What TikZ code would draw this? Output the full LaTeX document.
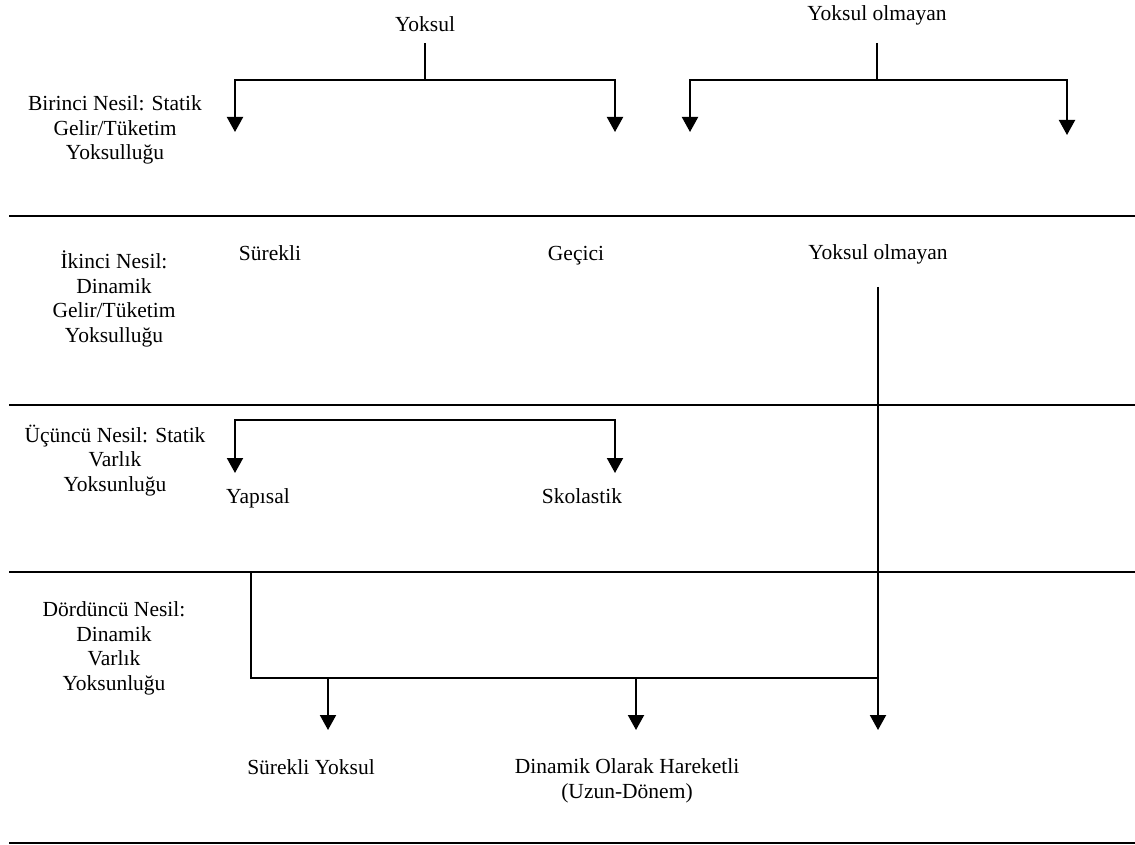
\documentclass[tikz,border=0pt]{standalone}
\usepackage{fontspec}
\setmainfont{Liberation Serif}
\usetikzlibrary{arrows.meta,positioning}

\begin{document}
\begin{tikzpicture}[
            x=1pt, y=-1pt,
            lbl/.style={font=\fontsize{21.5}{24.5}\selectfont, inner sep=0pt, anchor=base, align=center},
            rule/.style={draw, line width=2.4pt},
            line/.style={draw, line width=2pt},
            arrow/.style={line, -{Triangle[width=16pt,length=15pt]}},
            twoarrow/.style={line, {Triangle[width=16pt,length=15pt]}-{Triangle[width=16pt,length=15pt]}}
        ]
        \useasboundingbox (0,0) rectangle (1135,845);

        % Generation labels (base = last line)
        \node [lbl] (gen1) at (115,160) {Birinci Nesil: Statik\\Gelir/Tüketim\\Yoksulluğu};
        \node [lbl] (gen2) at (114,342) {İkinci Nesil:\\Dinamik\\Gelir/Tüketim\\Yoksulluğu};
        \node [lbl] (gen3) at (115,491) {Üçüncü Nesil: Statik\\Varlık\\Yoksunluğu};
        \node [lbl] (gen4) at (114,690) {Dördüncü Nesil:\\Dinamik\\Varlık\\Yoksunluğu};

        % Main Nodes
        \node [lbl] (poor1) at (425,32) {Yoksul};
        \node [lbl] (nonpoor1) at (877,21) {Yoksul olmayan};
        \node [lbl] (chronic) at (270,260) {Sürekli};
        \node [lbl] (transient) at (576,260) {Geçici};
        \node [lbl] (nonpoor2) at (878,259) {Yoksul olmayan};
        \node [lbl] (structural) at (258,503) {Yapısal};
        \node [lbl] (stochastic) at (582,503) {Skolastik};
        \node [lbl] (chronicpoor) at (311,774) {Sürekli Yoksul};
        \node [lbl] (mobile) at (627,798) {Dinamik Olarak Hareketli\\(Uzun-Dönem)};

        % Junctions
        \coordinate (p1join) at (425,80);
        \coordinate (p1left) at (235,132);
        \coordinate (p1right) at (615,132);
        \coordinate (np1join) at (877,80);
        \coordinate (np1left) at (690,132);
        \coordinate (np1right) at (1067,135);
        \coordinate (s3left) at (235,473);
        \coordinate (s3right) at (615,473);
        \coordinate (s3top) at (615,420);
        \coordinate (d4top) at (251,572);
        \coordinate (d4join) at (878,678);
        \coordinate (d4a) at (328,678);
        \coordinate (d4b) at (636,678);
        \coordinate (d4end) at (878,730);

        % Separators
        \draw [rule] (9,216) -- (1135,216);
        \draw [rule] (9,405) -- (1135,405);
        \draw [rule] (9,572) -- (1135,572);
        \draw [rule] (9,843) -- (1135,843);

        % Edges
        \path [line, shorten <=11pt] (poor1.south) -- (p1join);
        \path [arrow] (p1join) -| (p1left);
        \path [arrow] (p1join) -| (p1right);
        \path [line, shorten <=17pt] (nonpoor1.south) -- (np1join);
        \path [arrow] (np1join) -| (np1left);
        \path [arrow] (np1join) -| (np1right);
        \path [twoarrow] (s3left) |- (s3top) -- (s3right);
        \path [arrow, shorten <=23pt] (nonpoor2.south) -- (d4end);
        \path [line] (d4top) |- (d4join);
        \path [arrow] (d4a) -- ++(0,52);
        \path [arrow] (d4b) -- ++(0,52);

    \end{tikzpicture}
\end{document}
